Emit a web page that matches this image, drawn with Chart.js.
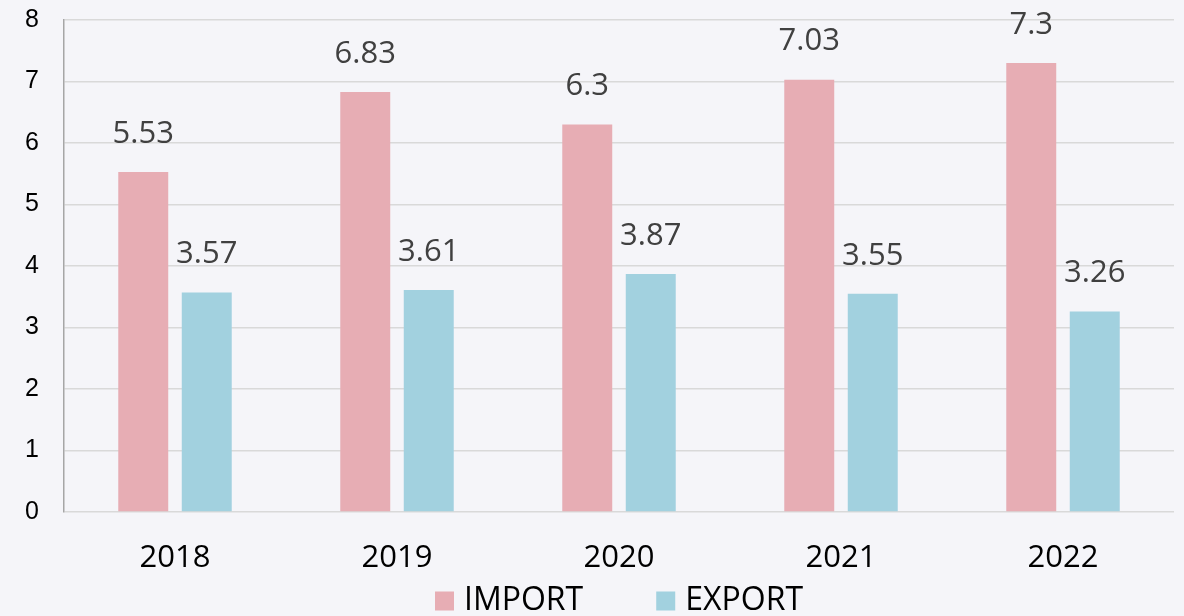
<!DOCTYPE html>
<html>
<head>
<meta charset="utf-8">
<script src="https://cdn.jsdelivr.net/npm/chart.js@4"></script>
<style>
  html, body { margin: 0; padding: 0; background: #f5f5f9; }
  #wrap { width: 1184px; height: 616px; }
</style>
</head>
<body>
<div id="wrap"><canvas id="tradeChart"></canvas></div>
<script>
const years = ['2018', '2019', '2020', '2021', '2022'];
const importValues = [5.53, 6.83, 6.3, 7.03, 7.3];
const exportValues = [3.57, 3.61, 3.87, 3.55, 3.26];
const yTicks = [0, 1, 2, 3, 4, 5, 6, 7, 8];

const pink = '#e7adb4';
const blue = '#a2d1df';

// value labels above each bar
const valueLabels = {
    id: 'valueLabels',
    afterDatasetsDraw(chart) {
        const ctx = chart.ctx;
        ctx.save();
        ctx.font = '31px "Open Sans", "Noto Sans", sans-serif';
        ctx.fillStyle = '#404040';
        ctx.textAlign = 'center';
        ctx.textBaseline = 'middle';
        chart.data.datasets.forEach((ds, i) => {
            chart.getDatasetMeta(i).data.forEach((bar, j) => {
                ctx.fillText(String(ds.data[j]), bar.x, bar.y - 38);
            });
        });
        ctx.restore();
    }
};

// legend under the axis labels
const bottomLegend = {
    id: 'bottomLegend',
    afterDraw(chart) {
        const ctx = chart.ctx;
        const area = chart.chartArea;
        ctx.save();
        ctx.font = '32px "Open Sans", "Noto Sans", sans-serif';
        ctx.textBaseline = 'middle';
        ctx.textAlign = 'left';
        const box = 19, gap = 10, itemGap = 73;
        const items = chart.data.datasets.map(ds => ({
            text: ds.label, color: ds.backgroundColor, w: ctx.measureText(ds.label).width
        }));
        const total = items.reduce((s, it) => s + box + gap + it.w, 0) + itemGap * (items.length - 1);
        let x = (area.left + area.right) / 2 - total / 2;
        const y = 601;
        items.forEach(it => {
            ctx.fillStyle = it.color;
            ctx.fillRect(x, y - box / 2, box, box);
            ctx.fillStyle = '#000';
            ctx.fillText(it.text, x + box + gap, y);
            x += box + gap + it.w + itemGap;
        });
        ctx.restore();
    }
};

const background = {
    id: 'background',
    beforeDraw(chart) {
        const ctx = chart.ctx;
        ctx.save();
        ctx.fillStyle = '#f5f5f9';
        ctx.fillRect(0, 0, chart.width, chart.height);
        ctx.restore();
    }
};

new Chart(document.getElementById('tradeChart'), {
    type: 'bar',
    data: {
        labels: years,
        datasets: [
            { label: 'IMPORT', data: importValues, backgroundColor: pink, borderWidth: 0 },
            { label: 'EXPORT', data: exportValues, backgroundColor: blue, borderWidth: 0 }
        ]
    },
    options: {
        responsive: true,
        maintainAspectRatio: false,
        animation: false,
        categoryPercentage: 0.572,
        barPercentage: 0.787,
        layout: { padding: { top: 0, right: 10, left: 0, bottom: 0 } },
        plugins: {
            legend: { display: false },
            tooltip: { enabled: false }
        },
        scales: {
            x: {
                grid: { display: false, drawTicks: false },
                border: { display: false },
                ticks: {
                    color: '#000',
                    padding: 28,
                    font: { family: '"Open Sans", "Noto Sans", sans-serif', size: 31 }
                },
                afterFit(s) { s.height = 104; }
            },
            y: {
                min: 0,
                max: 8,
                afterBuildTicks(s) { s.ticks = yTicks.map(v => ({ value: v })); },
                grid: { color: '#d9d9d9', lineWidth: 1.5, drawTicks: false },
                border: { color: '#a6a6a6', width: 1.5 },
                ticks: {
                    color: '#000',
                    padding: 25,
                    font: { family: '"Liberation Sans", Arial, sans-serif', size: 25 }
                },
                afterFit(s) {
                    s.width = 64;
                    s.paddingTop = 20;
                }
            }
        }
    },
    plugins: [background, valueLabels, bottomLegend]
});
</script>
</body>
</html>
